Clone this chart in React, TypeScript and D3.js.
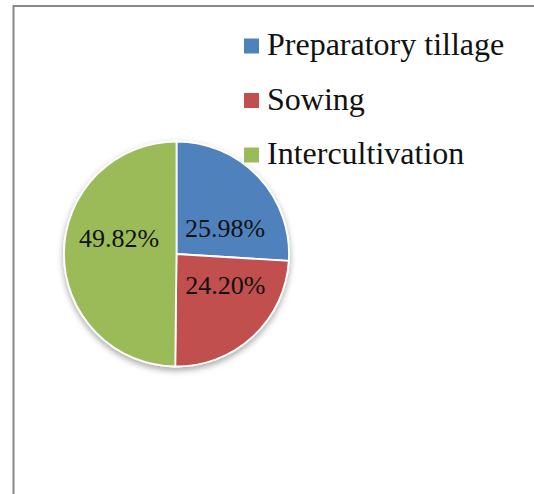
import React from "react";
import * as d3 from "d3";

// Share of each operation (percent)
const operations = ["Preparatory tillage", "Sowing", "Intercultivation"];
const shares = [25.98, 24.2, 49.82];
const sliceColors = ["#4F81BD", "#C0504D", "#9BBB59"];

const WIDTH = 534;
const HEIGHT = 494;
const CX = 176.5;
const CY = 254;
const R = 112.5;
const FONT = "Liberation Serif, Tinos, Times New Roman, DejaVu Serif, serif";

// Labels sit near the slice centroid, pulled toward the middle like the spreadsheet layout
const labelNudge: Record<string, [number, number]> = {
  "Preparatory tillage": [-0.7, 20.5],
  Sowing: [3, -18.5],
  Intercultivation: [10, -15.6],
};

export default function App() {
  const data = operations.map((name, i) => ({ name, value: shares[i], color: sliceColors[i] }));
  const pie = d3
    .pie<{ name: string; value: number; color: string }>()
    .value((d) => d.value)
    .sort(null);
  const arcs = pie(data);
  const arc = d3.arc<d3.PieArcDatum<any>>().innerRadius(0).outerRadius(R);
  const labelArc = d3
    .arc<d3.PieArcDatum<any>>()
    .innerRadius(R * 0.45)
    .outerRadius(R * 0.75);

  const legendY = d3.scalePoint<string>().domain(operations).range([55, 164]);

  return (
    <div style={{ position: "absolute", left: 0, top: 0 }}>
      <svg width={WIDTH} height={HEIGHT} style={{ display: "block", background: "#fff" }}>
        <defs>
          <filter id="pieShadow" x="-20%" y="-20%" width="140%" height="150%">
            <feDropShadow dx="0" dy="3" stdDeviation="3" floodColor="#000" floodOpacity="0.35" />
          </filter>
        </defs>
        {/* chart frame */}
        <path d={`M13.5,${HEIGHT + 2} L13.5,6 L${WIDTH + 2},6`} fill="none" stroke="#888" strokeWidth={2} />

        <g transform={`translate(${CX},${CY})`}>
          <g filter="url(#pieShadow)">
            {arcs.map((a) => (
              <path key={a.data.name} d={arc(a) || ""} fill={a.data.color} stroke="#fff" strokeWidth={1.8} />
            ))}
          </g>
          {arcs.map((a) => {
            const [x, y] = labelArc.centroid(a);
            const [dx, dy] = labelNudge[a.data.name];
            return (
              <text
                key={a.data.name}
                x={x + dx}
                y={y + dy}
                dy="0.34em"
                textAnchor="middle"
                style={{ fontFamily: FONT, fontSize: 26 }}
                fill="#111"
              >
                {a.data.value.toFixed(2)}%
              </text>
            );
          })}
        </g>

        {data.map((d) => {
          const y = legendY(d.name) as number;
          return (
            <g key={d.name}>
              <rect x={244} y={y - 16.5} width={15} height={15} fill={d.color} />
              <text x={267} y={y} style={{ fontFamily: FONT, fontSize: 32 }} fill="#111">
                {d.name}
              </text>
            </g>
          );
        })}
      </svg>
    </div>
  );
}
